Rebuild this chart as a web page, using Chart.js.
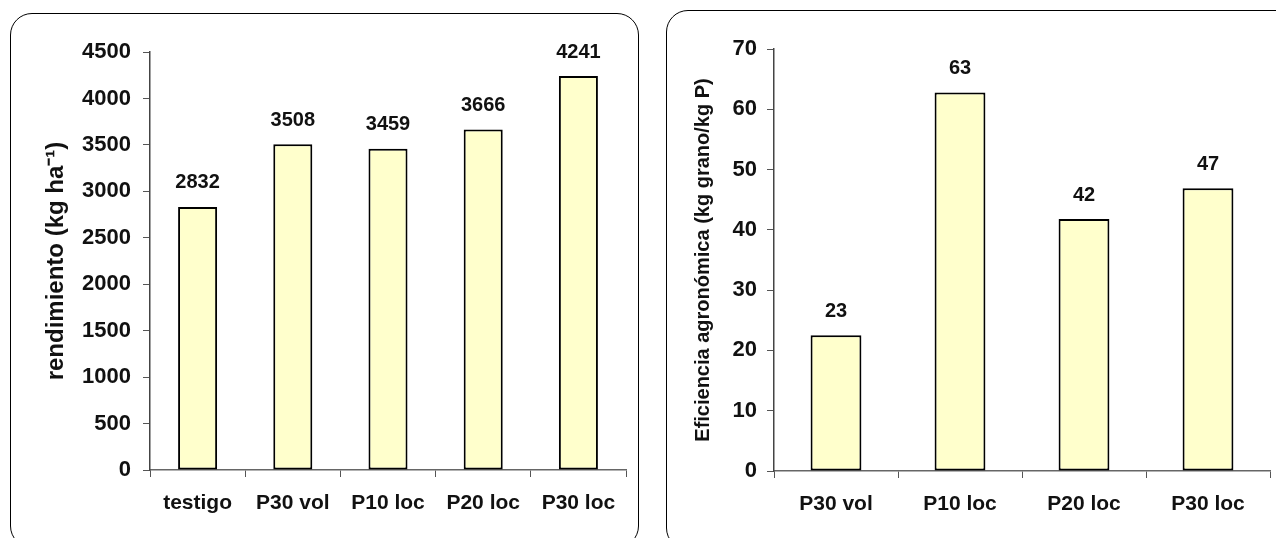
<!DOCTYPE html>
<html>
<head>
<meta charset="utf-8">
<script src="https://cdn.jsdelivr.net/npm/chart.js@4/dist/chart.umd.min.js"></script>
<style>
  body { margin: 0; background: #fff; width: 1276px; height: 538px; overflow: hidden; position: relative; }
  .box { position: absolute; border: 1.5px solid #000; border-radius: 22px; box-sizing: border-box; }
  canvas { position: absolute; }
</style>
</head>
<body>
<div class="box" style="left:10px; top:13px; width:629px; height:535px;"></div>
<div class="box" style="left:666px; top:10px; width:640px; height:540px;"></div>
<canvas id="rendChart" width="628" height="525" style="left:10px; top:13px;"></canvas>
<canvas id="efChart" width="610" height="528" style="left:666px; top:10px;"></canvas>
<script>
// rendimiento chart
var rendLabels = ["testigo", "P30 vol", "P10 loc", "P20 loc", "P30 loc"];
var rendValues = [2832, 3508, 3459, 3666, 4241];

// eficiencia agronomica chart
var efLabels = ["P30 vol", "P10 loc", "P20 loc", "P30 loc"];
var efValues = [22.5, 62.8, 41.8, 46.9];

var fontFamily = "'Liberation Sans', Arial, sans-serif";

// draws the rounded value above each bar
var barValuePlugin = {
    id: "barValues",
    afterDatasetsDraw: function(chart) {
        var ctx = chart.ctx;
        var meta = chart.getDatasetMeta(0);
        var values = chart.data.datasets[0].data;
        ctx.save();
        ctx.font = "bold 20px " + fontFamily;
        ctx.fillStyle = "#111";
        ctx.textAlign = "center";
        ctx.textBaseline = "middle";
        meta.data.forEach(function(bar, i) {
            ctx.fillText(Math.round(values[i]), bar.x, bar.y - 24);
        });
        ctx.restore();
    }
};

function makeChart(id, labels, values, opts) {
    var ctx = document.getElementById(id).getContext("2d");
    return new Chart(ctx, {
        type: "bar",
        data: {
            labels: labels,
            datasets: [{
                data: values,
                backgroundColor: "#FFFFCC",
                borderColor: "#000",
                borderWidth: 2,
                borderSkipped: false,
                categoryPercentage: 1,
                barPercentage: 0.41
            }]
        },
        options: {
            responsive: false,
            animation: false,
            layout: {
                padding: { top: 39, right: opts.rightPad, bottom: 0, left: 0 }
            },
            plugins: {
                legend: { display: false },
                tooltip: { enabled: false }
            },
            scales: {
                x: {
                    grid: { display: true, drawOnChartArea: false, tickLength: 7, color: "#555", tickColor: "#555" },
                    border: { color: "#666", width: 1.5 },
                    ticks: {
                        padding: 14,
                        color: "#111",
                        font: { family: fontFamily, size: 21, weight: "bold" }
                    },
                    afterFit: function(scale) { scale.height = opts.xHeight; }
                },
                y: {
                    min: 0,
                    max: opts.max,
                    grid: { display: true, drawOnChartArea: false, tickLength: 7, color: "#555", tickColor: "#555" },
                    border: { color: "#444", width: 1.5 },
                    ticks: {
                        stepSize: opts.step,
                        padding: opts.tickPad,
                        color: "#111",
                        font: { family: fontFamily, size: 22, weight: "bold" },
                        callback: function(v) { return String(v); }
                    },
                    title: {
                        display: true,
                        text: opts.title,
                        color: "#111",
                        padding: { top: opts.titlePad, bottom: 0 },
                        font: { family: fontFamily, size: opts.titleSize, weight: "bold" }
                    },
                    afterFit: function(scale) { scale.width = opts.yWidth; }
                }
            }
        },
        plugins: [barValuePlugin]
    });
}

makeChart("rendChart", rendLabels, rendValues, {
    max: 4500, step: 500, rightPad: 12, xHeight: 68, yWidth: 140,
    tickPad: 12, title: "rendimiento (kg ha\u207B\u00B9)", titleSize: 24, titlePad: 32
});

makeChart("efChart", efLabels, efValues, {
    max: 70, step: 10, rightPad: 6, xHeight: 67, yWidth: 108,
    tickPad: 10, title: "Eficiencia agronómica (kg grano/kg P)", titleSize: 20, titlePad: 25
});
</script>
</body>
</html>
